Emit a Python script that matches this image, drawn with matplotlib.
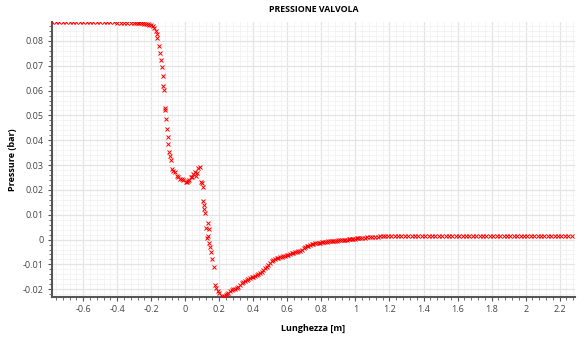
import numpy as np
from matplotlib import pyplot as plt
from matplotlib.ticker import MultipleLocator, FuncFormatter

# lunghezza [m]
lung = [-0.78, -0.76, -0.74, -0.72, -0.70, -0.68, -0.66, -0.64, -0.62, -0.60,
        -0.58, -0.56, -0.54, -0.52, -0.50, -0.48, -0.46, -0.44, -0.42, -0.40,
        -0.38, -0.36, -0.34, -0.32, -0.30, -0.29, -0.28, -0.27, -0.26, -0.25,
        -0.24, -0.23, -0.22, -0.21, -0.20, -0.19,
        -0.184, -0.174, -0.168, -0.164, -0.154, -0.147, -0.141, -0.135, -0.133, -0.129,
        -0.123, -0.119, -0.117, -0.112, -0.106, -0.102, -0.100, -0.098, -0.090, -0.086,
        -0.080, -0.070, -0.060, -0.050, -0.041, -0.031, -0.021, -0.011, 0.002, 0.008,
        0.014, 0.024, 0.032, 0.039, 0.047, 0.057, 0.063, 0.071, 0.077, 0.086,
        0.090, 0.096, 0.104, 0.106, 0.110, 0.112, 0.118, 0.121, 0.127, 0.131,
        0.139, 0.136, 0.141, 0.147, 0.151, 0.157, 0.167, 0.173, 0.180, 0.192,
        0.200, 0.214, 0.222, 0.230, 0.240, 0.247, 0.253, 0.263, 0.273, 0.283,
        0.293, 0.302, 0.312, 0.322, 0.332, 0.342, 0.352, 0.361, 0.371, 0.381,
        0.390, 0.400, 0.410, 0.420, 0.430, 0.439, 0.449, 0.459, 0.468, 0.478,
        0.488, 0.498, 0.508, 0.518, 0.528, 0.538, 0.547, 0.557, 0.567, 0.577,
        0.586, 0.596, 0.606, 0.616, 0.626, 0.635, 0.645, 0.655, 0.665, 0.675,
        0.685, 0.695, 0.705, 0.714, 0.724, 0.733, 0.743, 0.753, 0.763, 0.773,
        0.783, 0.792, 0.802, 0.812, 0.822, 0.832, 0.841, 0.851, 0.861, 0.871,
        0.881, 0.890, 0.900, 0.910, 0.920, 0.930, 0.940, 0.950, 0.960, 0.968,
        0.978, 0.988, 0.998, 1.008, 1.018, 1.027, 1.040, 1.055, 1.070, 1.086,
        1.100, 1.115, 1.130, 1.145, 1.160, 1.175, 1.190,
        1.21, 1.23, 1.25, 1.27, 1.29, 1.31, 1.33, 1.35, 1.37, 1.39,
        1.41, 1.43, 1.45, 1.47, 1.49, 1.51, 1.53, 1.55, 1.57, 1.59,
        1.61, 1.63, 1.65, 1.67, 1.69, 1.71, 1.73, 1.75, 1.77, 1.79,
        1.81, 1.83, 1.85, 1.87, 1.89, 1.91, 1.93, 1.95, 1.97, 1.99,
        2.01, 2.03, 2.05, 2.07, 2.09, 2.11, 2.13, 2.15, 2.17, 2.19,
        2.21, 2.23, 2.25, 2.27]

# pressione [bar]
pres = [0.0875, 0.0875, 0.0875, 0.0875, 0.0875, 0.0875, 0.0875, 0.0875, 0.0875, 0.0875,
        0.0875, 0.0875, 0.0875, 0.0875, 0.0875, 0.0875, 0.0875, 0.0875, 0.0875, 0.0874,
        0.0874, 0.0874, 0.0874, 0.0874, 0.0874, 0.0873, 0.0873, 0.0873, 0.0872, 0.0871,
        0.0870, 0.0869, 0.0867, 0.0866, 0.0864, 0.0860,
        0.0851, 0.0840, 0.0827, 0.0811, 0.0781, 0.0750, 0.0723, 0.0694, 0.0660, 0.0619,
        0.0601, 0.0531, 0.0522, 0.0487, 0.0445, 0.0412, 0.0384, 0.0354, 0.0338, 0.0322,
        0.0284, 0.0278, 0.0271, 0.0256, 0.0251, 0.0245, 0.0243, 0.0239, 0.0231, 0.0233,
        0.0237, 0.0240, 0.0251, 0.0253, 0.0264, 0.0271, 0.0257, 0.0267, 0.0287, 0.0291,
        0.0233, 0.0229, 0.0213, 0.0157, 0.0139, 0.0122, 0.0106, 0.0046, 0.0005, 0.0066,
        0.0041, 0.0016, -0.0015, -0.0029, -0.0050, -0.0077, -0.0109, -0.0182, -0.0196, -0.0207,
        -0.0214, -0.0228, -0.0230, -0.0227, -0.0223, -0.0218, -0.0214, -0.0208, -0.0203, -0.0201,
        -0.0200, -0.0196, -0.0190, -0.0183, -0.0176, -0.0170, -0.0166, -0.0163, -0.0158, -0.0155,
        -0.0152, -0.0149, -0.0146, -0.0142, -0.0139, -0.0136, -0.0129, -0.0121, -0.0115, -0.0109,
        -0.0101, -0.0094, -0.0088, -0.0082, -0.0078, -0.0075, -0.0073, -0.0071, -0.0069, -0.0067,
        -0.0065, -0.0063, -0.0061, -0.0058, -0.0056, -0.0055, -0.0052, -0.0049, -0.0047, -0.0044,
        -0.0040, -0.0035, -0.0031, -0.0027, -0.0024, -0.0022, -0.0019, -0.0017, -0.0015, -0.0014,
        -0.0013, -0.0012, -0.0011, -0.0010, -0.0009, -0.0008, -0.0007, -0.0006, -0.0005, -0.0005,
        -0.0004, -0.0004, -0.0003, -0.0003, -0.0002, -0.0001, 0.0000, 0.0000, 0.0001, 0.0001,
        0.0002, 0.0003, 0.0004, 0.0005, 0.0005, 0.0006, 0.0007, 0.0008, 0.0009, 0.0010,
        0.0011, 0.0012, 0.0012, 0.0013, 0.0014, 0.0014, 0.0015,
        0.0015, 0.0015, 0.0015, 0.0015, 0.0015, 0.0015, 0.0015, 0.0015, 0.0015, 0.0015,
        0.0015, 0.0015, 0.0015, 0.0015, 0.0015, 0.0015, 0.0015, 0.0015, 0.0015, 0.0015,
        0.0015, 0.0015, 0.0015, 0.0015, 0.0015, 0.0015, 0.0015, 0.0015, 0.0015, 0.0015,
        0.0015, 0.0015, 0.0013, 0.0013, 0.0013, 0.0013, 0.0013, 0.0013, 0.0013, 0.0013,
        0.0013, 0.0013, 0.0013, 0.0013, 0.0013, 0.0013, 0.0013, 0.0013, 0.0013, 0.0013,
        0.0013, 0.0013, 0.0013, 0.0013]

titolo = 'PRESSIONE VALVOLA'
xlab = 'Lunghezza [m]'
ylab = 'Pressure (bar)'

plt.rcParams['font.family'] = ['Open Sans', 'DejaVu Sans']

f = plt.figure(figsize=[5.86, 3.39], dpi=100)
ax = f.add_axes([0.0887, 0.1248, 0.8925, 0.8102])

ax.plot(lung, pres, linestyle='none', marker='x', markersize=2.8, markeredgewidth=0.7,
        color='#ff0000', zorder=3)

ax.set_xlim(-0.783, 2.29)
ax.set_ylim(-0.023, 0.0876)
ax.xaxis.set_major_locator(MultipleLocator(0.2))
ax.xaxis.set_minor_locator(MultipleLocator(0.04))
ax.yaxis.set_major_locator(MultipleLocator(0.01))
ax.yaxis.set_minor_locator(MultipleLocator(0.002))

fmt = lambda v, p: ('%g' % round(v, 4)) if abs(v) > 1e-9 else '0'
ax.xaxis.set_major_formatter(FuncFormatter(fmt))
ax.yaxis.set_major_formatter(FuncFormatter(fmt))

ax.grid(which='major', color='#e4e4e4', linewidth=0.9)
ax.grid(which='minor', color='#f2f2f2', linewidth=0.6)
ax.set_axisbelow(True)

for s in ['top', 'right']:
  ax.spines[s].set_visible(False)
for s in ['left', 'bottom']:
  ax.spines[s].set_color('#555555')
  ax.spines[s].set_linewidth(1.5)

ax.tick_params(which='major', length=3, width=0.8, color='#555555', labelsize=6.5,
               labelcolor='#444444', pad=3)
ax.tick_params(which='minor', length=2, width=0.6, color='#555555')

ax.set_title(titolo, fontsize=6.3, fontweight='bold', pad=7)
ax.set_xlabel(xlab, fontsize=6.5, fontweight='bold')
ax.set_ylabel(ylab, fontsize=6.5, fontweight='bold')
ax.xaxis.set_label_coords(0.5, -0.1)
ax.yaxis.set_label_coords(-0.066, 0.5)

plt.savefig('out.png', dpi=100)
